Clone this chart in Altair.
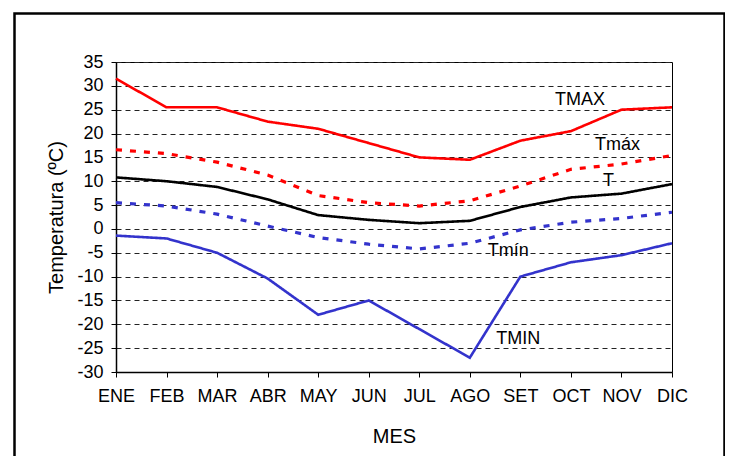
import altair as alt
import pandas as pd

months = ["ENE", "FEB", "MAR", "ABR", "MAY", "JUN", "JUL", "AGO", "SET", "OCT", "NOV", "DIC"]
series = ["TMAX", "Tmáx", "T", "Tmín", "TMIN"]
tmax_abs = [31.5, 25.5, 25.5, 22.5, 21.0, 18.0, 15.0, 14.5, 18.5, 20.5, 25.0, 25.5]
tmax_mean = [16.6, 15.8, 14.0, 11.3, 7.0, 5.5, 4.8, 5.9, 9.0, 12.5, 13.6, 15.4]
t_mean = [10.8, 10.0, 8.8, 6.2, 2.9, 1.9, 1.2, 1.7, 4.6, 6.6, 7.4, 9.4]
tmin_mean = [5.5, 4.8, 3.1, 0.6, -1.8, -3.2, -4.2, -3.0, -0.2, 1.4, 2.2, 3.5]
tmin_abs = [-1.4, -2.0, -5.0, -10.4, -18.0, -15.0, -21.0, -27.0, -10.0, -7.0, -5.5, -3.0]
y_ticks = [-30, -25, -20, -15, -10, -5, 0, 5, 10, 15, 20, 25, 30, 35]

colors = ["#FF0000", "#FF0000", "#000000", "#3333CC", "#3333CC"]
dashes = [[1, 0], [6, 8], [1, 0], [6, 8], [1, 0]]
widths = [2.6, 3.2, 2.6, 3.2, 2.6]

# label annotations: series name, anchor month, value, pixel nudge
label_text = ["TMAX", "Tmáx", "T", "Tmín", "TMIN"]
label_month = ["OCT", "NOV", "NOV", "SET", "SET"]
label_value = [27.0, 17.7, 10.1, -4.6, -23.1]
label_dx = [9, -4, -13, -12, -2]

values = [tmax_abs, tmax_mean, t_mean, tmin_mean, tmin_abs]
rows = []
for s, vals, w in zip(series, values, widths):
    for m, v in zip(months, vals):
        rows.append({"mes": m, "serie": s, "valor": v, "w": w})
df = pd.DataFrame(rows)

labels_df = pd.DataFrame({"mes": label_month, "valor": label_value,
                          "texto": label_text, "dx": label_dx})

FONT = "Liberation Sans"

x_axis = alt.Axis(title="MES", labelAngle=0, labelFontSize=18, titleFontSize=20,
                  titleFontWeight="normal", labelPadding=10, titlePadding=21,
                  tickSize=5, tickColor="#000", domainColor="#000",
                  domainWidth=1.5, labelColor="#000", titleColor="#000",
                  grid=False)
y_axis = alt.Axis(title="Temperatura (ºC)", values=y_ticks, format="d",
                  labelExpr="replace(datum.label, '−', '-')",
                  labelOverlap=False, labelFontSize=18, titleFontSize=20,
                  titleFontWeight="normal", labelPadding=8, titlePadding=10,
                  tickSize=5, tickColor="#000", domainColor="#000",
                  domainWidth=1.5, labelColor="#000", titleColor="#000",
                  grid=True, gridColor="#222", gridDash=[5, 4], gridWidth=1)
x_scale = alt.Scale(type="point", padding=0)
y_scale = alt.Scale(domain=[-30, 35], nice=False, zero=False)

lines = alt.Chart(df).mark_line(strokeCap="butt").encode(
    x=alt.X("mes:O", sort=months, scale=x_scale, axis=x_axis),
    y=alt.Y("valor:Q", scale=y_scale, axis=y_axis),
    color=alt.Color("serie:N", scale=alt.Scale(domain=series, range=colors), legend=None),
    strokeDash=alt.StrokeDash("serie:N", scale=alt.Scale(domain=series, range=dashes), legend=None),
    strokeWidth=alt.StrokeWidth("w:Q", scale=None, legend=None),
    detail="serie:N",
)

texts = alt.Chart(labels_df).mark_text(fontSize=18, font=FONT, color="#000",
                                       baseline="middle", align="center").encode(
    x=alt.X("mes:O", sort=months, scale=x_scale, axis=x_axis),
    y=alt.Y("valor:Q", scale=y_scale, axis=y_axis),
    text="texto:N",
    xOffset=alt.XOffset("dx:Q", scale=None),
)

frame = alt.Chart(pd.DataFrame({"a": [0]})).mark_rect(
    fill=None, stroke="#000", strokeWidth=2.5
).encode(x=alt.value(-101.5), x2=alt.value(608.5), y=alt.value(-48.5), y2=alt.value(430))

chart = alt.layer(lines, texts, frame).properties(
    width=556, height=310,
    autosize=alt.AutoSizeParams(type="none"),
    padding={"left": 108, "top": 54, "right": 53, "bottom": 84},
).configure(font=FONT).configure_view(stroke="#000", strokeWidth=1)

chart.save("out.html", embed_options={"renderer": "svg", "actions": False})
